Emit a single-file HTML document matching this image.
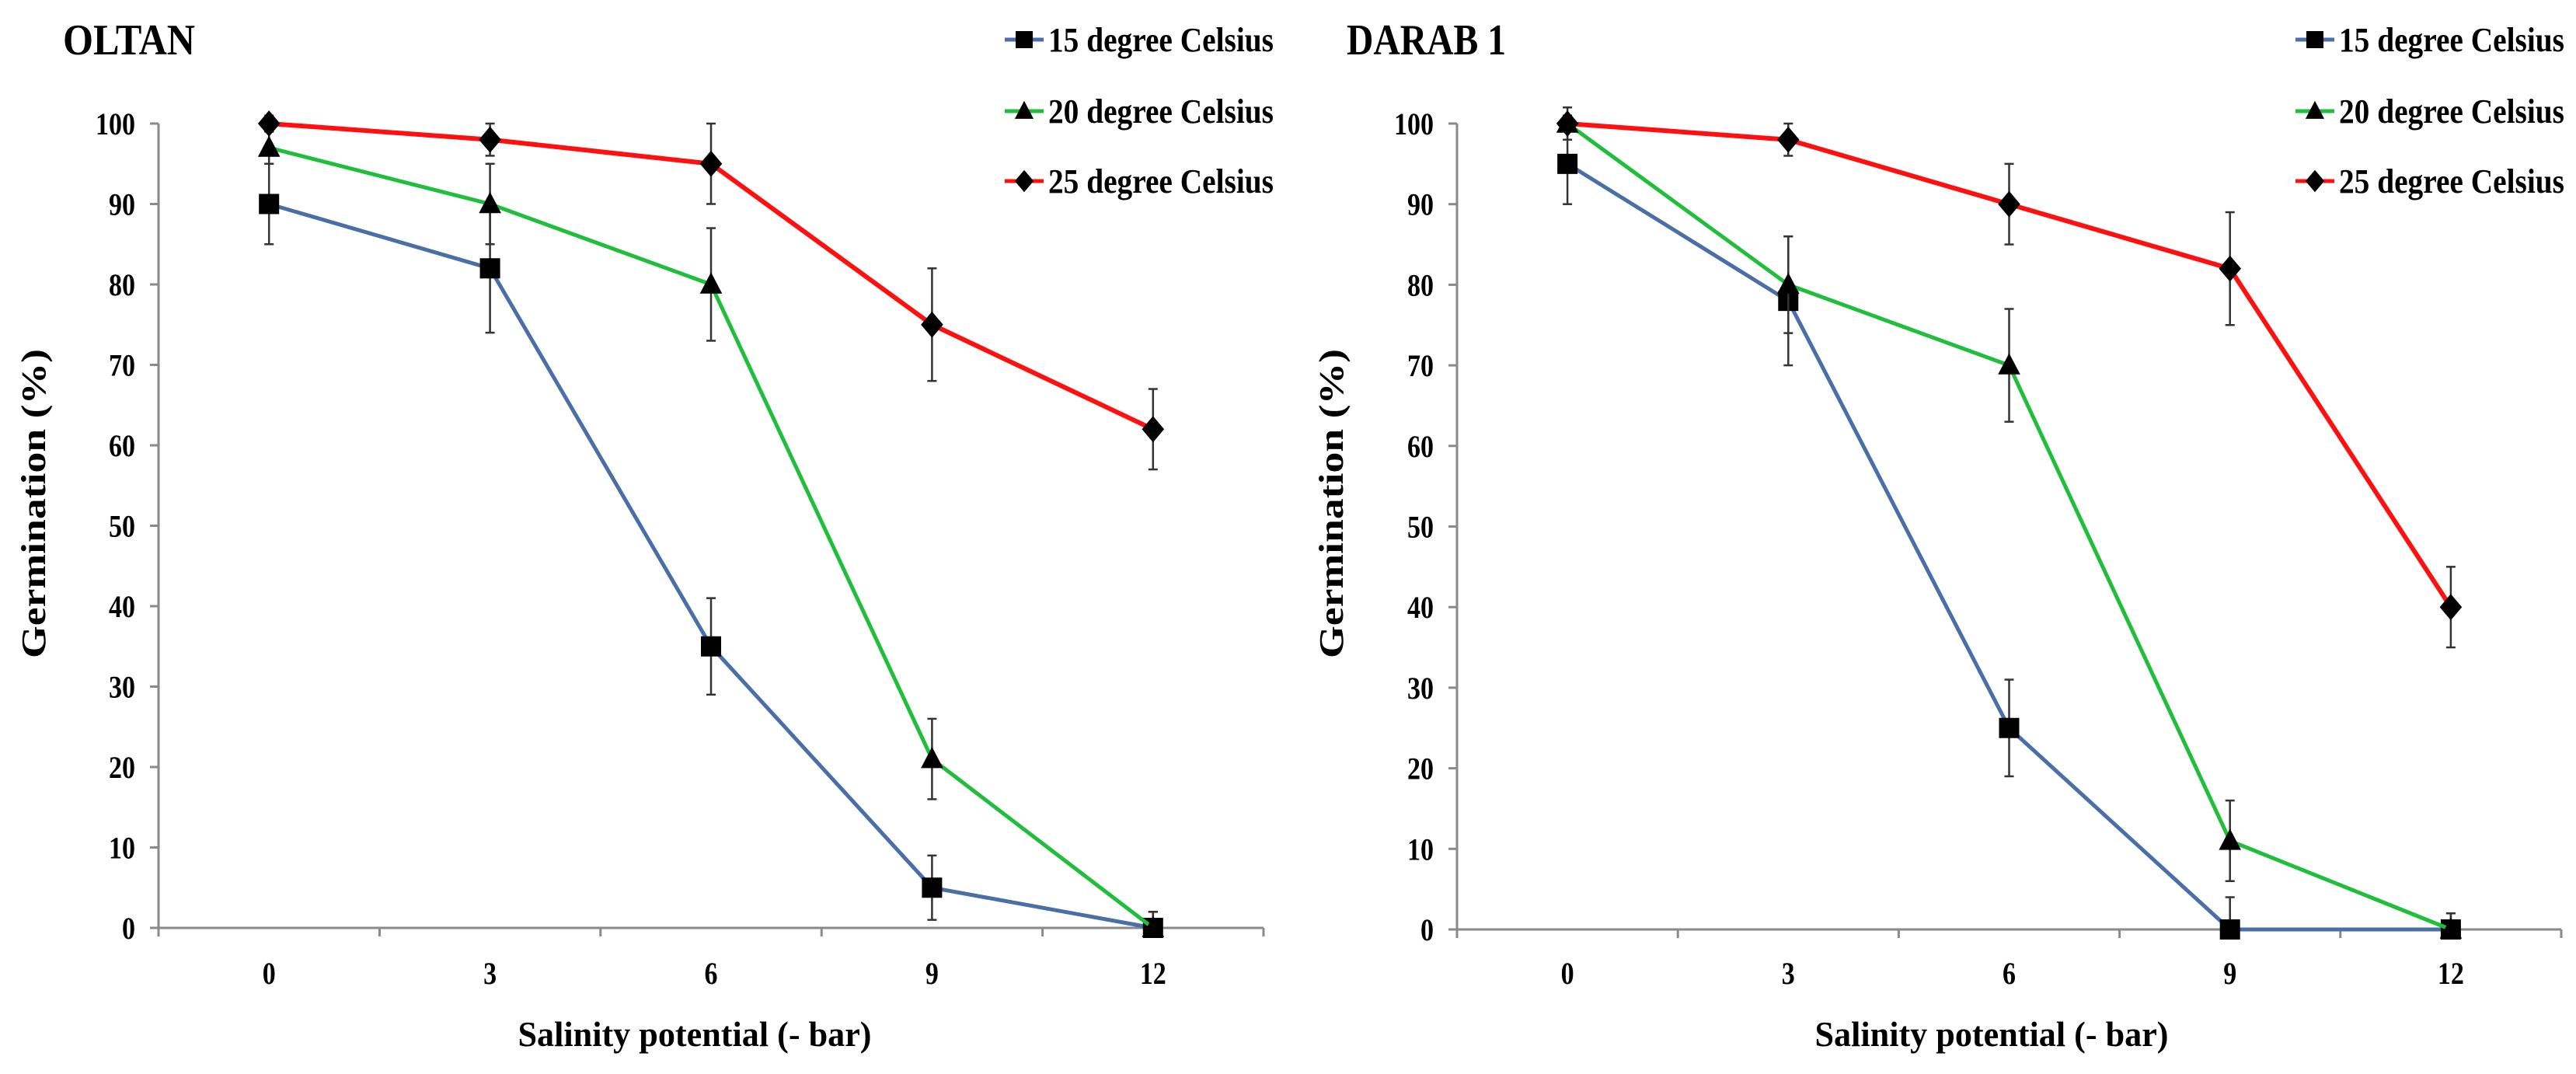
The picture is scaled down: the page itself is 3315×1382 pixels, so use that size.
<!DOCTYPE html>
<html><head><meta charset="utf-8"><style>
html,body{margin:0;padding:0;background:#fff;}
svg{display:block;}
text{font-family:"Liberation Serif",serif;font-weight:bold;fill:#000;}
</style></head><body>
<svg id="fig" width="3315" height="1382" viewBox="0 0 3315 1382"></svg>
<script>
const categories = ["0","3","6","9","12"];
const yTicks = [0,10,20,30,40,50,60,70,80,90,100];
const seriesNames = ["15 degree Celsius","20 degree Celsius","25 degree Celsius"];
const oltan15 = [90,82,35,5,0];
const oltan15Err = [5,8,6,4,2];
const oltan20 = [97,90,80,21,0];
const oltan20Err = [2,5,7,5,2];
const oltan25 = [100,98,95,75,62];
const oltan25Err = [1,2,5,7,5];
const darab15 = [95,78,25,0,0];
const darab15Err = [5,8,6,4,2];
const darab20 = [100,80,70,11,0];
const darab20Err = [2,6,7,5,2];
const darab25 = [100,98,90,82,40];
const darab25Err = [1,2,5,7,5];

const NS = "http://www.w3.org/2000/svg";
const svg = document.getElementById('fig');
const colors = ["#4a6ea8","#1fbf3c","#ff1010"];
const markers = ["square","triangle","diamond"];
function mk(tag, attrs, parent){
  const e = document.createElementNS(NS, tag);
  for (const k in attrs) e.setAttribute(k, attrs[k]);
  (parent||svg).appendChild(e);
  return e;
}
function marker(g, type, x, y, s){
  let e;
  if (type==="square") e = mk('rect',{x:x-s/2,y:y-s/2,width:s,height:s,fill:'#000'},g);
  else if (type==="triangle") e = mk('polygon',{points:`${x},${y-s*0.6} ${x-s*0.55},${y+s*0.45} ${x+s*0.55},${y+s*0.45}`,fill:'#000'},g);
  else e = mk('polygon',{points:`${x},${y-s*0.65} ${x+s*0.55},${y} ${x},${y+s*0.65} ${x-s*0.55},${y}`,fill:'#000'},g);
  return e;
}
function chart(cfg){
  const g = mk('g',{});
  
  
  const x0 = cfg.x0, x1 = cfg.x1, yTop = cfg.yTop, yBot = cfg.yBot;
  const bw = (x1-x0)/categories.length;
  const xs = i => x0 + bw*(i+0.5);
  const ys = v => yBot - (v/100)*(yBot-yTop);
  const t = mk('text',{x:cfg.titleX,y:70,'font-size':56,textLength:cfg.titleW,lengthAdjust:'spacingAndGlyphs'},g);
  t.textContent = cfg.title;
  
  
  const ya = mk('line',{x1:x0,y1:yTop,x2:x0,y2:yBot,stroke:'#8a8a8a','stroke-width':3},g);
  
  
  yTicks.forEach(v=>{
    mk('line',{x1:x0-11,y1:ys(v),x2:x0,y2:ys(v),stroke:'#8a8a8a','stroke-width':3},g);
    const tl = mk('text',{x:0,y:0,'font-size':40,'text-anchor':'end',transform:`translate(${x0-30},${ys(v)+14}) scale(0.85,1)`},g);
    tl.textContent = v;
    
    
  });
  const xa = mk('line',{x1:x0,y1:yBot,x2:x1,y2:yBot,stroke:'#8a8a8a','stroke-width':3},g);
  
  
  for (let i=0;i<=categories.length;i++){
    mk('line',{x1:x0+bw*i,y1:yBot,x2:x0+bw*i,y2:yBot+11,stroke:'#8a8a8a','stroke-width':3},g);
  }
  categories.forEach((c,i)=>{
    const tl = mk('text',{x:0,y:0,'font-size':40,'text-anchor':'middle',transform:`translate(${xs(i)},1266) scale(0.85,1)`},g);
    tl.textContent = c;
    
    
  });
  const xt = mk('text',{x:cfg.xTitleX,y:1346,'font-size':46,'text-anchor':'middle',textLength:455,lengthAdjust:'spacingAndGlyphs'},g);
  xt.textContent = 'Salinity potential  (- bar)';
  
  
  const yt = mk('text',{x:0,y:0,'font-size':44,'text-anchor':'middle',textLength:398,lengthAdjust:'spacingAndGlyphs',transform:`translate(${cfg.yTitleX},648) rotate(-90)`},g);
  yt.textContent = 'Germination  (%)';
  
  
  cfg.series.forEach((s,si)=>{
    const sg = mk('g',{},g);
    
    
    s.v.forEach((v,i)=>{
      const e = s.e[i];
      const x = xs(i);
      const lo = Math.max(0, v-e);
      mk('line',{x1:x,y1:ys(v+e),x2:x,y2:ys(lo),stroke:'#333','stroke-width':2.5},sg);
      mk('line',{x1:x-6,y1:ys(v+e),x2:x+6,y2:ys(v+e),stroke:'#333','stroke-width':2.5},sg);
      mk('line',{x1:x-6,y1:ys(lo),x2:x+6,y2:ys(lo),stroke:'#333','stroke-width':2.5},sg);
    });
    const pts = s.v.map((v,i)=>xs(i)+','+ys(v)).join(' ');
    const pl = mk('polyline',{points:pts,fill:'none',stroke:colors[si],'stroke-width':si===2?6:5,'stroke-linejoin':'round'},sg);
    
    
    s.v.forEach((v,i)=>{
      const m = marker(sg, markers[si], xs(i), ys(v), 26);
      
      
    });
  });
  const lg = mk('g',{},g);
  
  
  const legY = [51,143,233];
  seriesNames.forEach((n,si)=>{
    const eg = mk('g',{},lg);
    
    
    mk('line',{x1:cfg.legX,y1:legY[si],x2:cfg.legX+50,y2:legY[si],stroke:colors[si],'stroke-width':5},eg);
    marker(eg, markers[si], cfg.legX+25, legY[si], 22);
    const lt = mk('text',{x:cfg.legX+56,y:legY[si]+15,'font-size':44,textLength:cfg.legW,lengthAdjust:'spacingAndGlyphs'},eg);
    lt.textContent = n;
  });
}
chart({name:'oltan-chart',title:'OLTAN',titleX:81,titleW:170,x0:204,x1:1626,yTop:159,yBot:1194,yTitleX:58,xTitleX:894,legX:1293,legW:290,
  series:[{v:oltan15,e:oltan15Err},{v:oltan20,e:oltan20Err},{v:oltan25,e:oltan25Err}]});
chart({name:'darab1-chart',title:'DARAB 1',titleX:1733,titleW:205,x0:1875,x1:3296,yTop:159,yBot:1196,yTitleX:1728,xTitleX:2563,legX:2954,legW:290,
  series:[{v:darab15,e:darab15Err},{v:darab20,e:darab20Err},{v:darab25,e:darab25Err}]});
</script>
</body></html>
